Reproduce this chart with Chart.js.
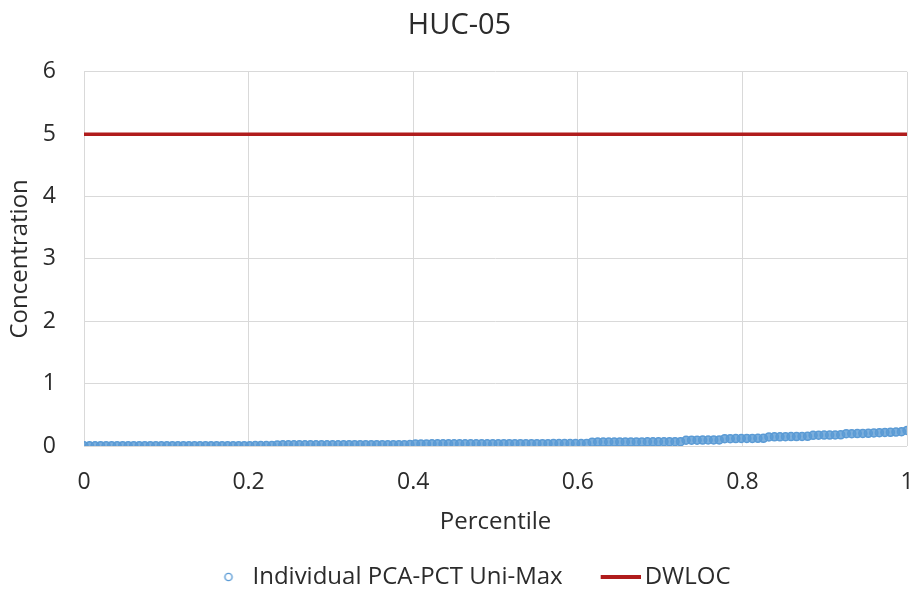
<!DOCTYPE html>
<html>
<head>
<meta charset="utf-8">
<script src="https://cdn.jsdelivr.net/npm/chart.js@4.4.0/dist/chart.umd.min.js"></script>
<style>
    html, body { margin: 0; padding: 0; background: #fff; }
    #wrap { width: 914px; height: 601px; }
</style>
</head>
<body>
<div id="wrap"><canvas id="hucChart"></canvas></div>
<script>
// sorted concentrations (ranked low to high)
const concentrations = [
    0.004, 0.004, 0.004, 0.005, 0.005, 0.005, 0.005, 0.005, 0.005, 0.005,
    0.005, 0.005, 0.005, 0.005, 0.005, 0.005, 0.005, 0.005, 0.005, 0.006,
    0.006, 0.006, 0.006, 0.006, 0.006, 0.006, 0.006, 0.006, 0.006, 0.006,
    0.006, 0.007, 0.007, 0.007, 0.007,
    0.018, 0.019, 0.019, 0.02, 0.02, 0.02, 0.02, 0.02, 0.02, 0.02,
    0.02, 0.02, 0.02, 0.021, 0.021, 0.021, 0.021, 0.021, 0.021, 0.022,
    0.022, 0.022, 0.022, 0.022, 0.023,
    0.033, 0.034, 0.034, 0.035, 0.035, 0.035, 0.035, 0.035, 0.035, 0.035,
    0.035, 0.036, 0.036, 0.036, 0.036, 0.036, 0.037, 0.037, 0.037, 0.037,
    0.037, 0.038, 0.038, 0.038, 0.038, 0.039, 0.039, 0.039, 0.04, 0.04,
    0.04, 0.041,
    0.062, 0.063, 0.063, 0.064, 0.064, 0.065, 0.065, 0.065, 0.066, 0.066,
    0.067, 0.067, 0.068, 0.068, 0.069, 0.07, 0.07,
    0.092, 0.093, 0.094, 0.095, 0.096, 0.097, 0.098,
    0.117, 0.118, 0.119, 0.12, 0.121, 0.122, 0.123, 0.124,
    0.146, 0.147, 0.148, 0.15, 0.151, 0.152, 0.153, 0.155,
    0.172, 0.173, 0.175, 0.176, 0.177, 0.179,
    0.197, 0.198, 0.2, 0.201, 0.203,
    0.21, 0.213, 0.217, 0.22, 0.223, 0.23, 0.25
];
const dwlocLevel = 5;
const xTicks = [0, 0.2, 0.4, 0.6, 0.8, 1];
const yTicks = [0, 1, 2, 3, 4, 5, 6];

// percentile = rank / (n - 1)
const pcaPoints = concentrations.map((c, i) => ({ x: i / (concentrations.length - 1), y: c }));
const dwlocPoints = [{ x: xTicks[0], y: dwlocLevel }, { x: xTicks[xTicks.length - 1], y: dwlocLevel }];

const fontFamily = '"Open Sans", "Noto Sans", sans-serif';
const textColor = '#2b2b2b';
const blue = '#5b9bd5';
const red = '#b01c1c';

// legend symbols: small hollow circle, short thick line
function legendCircle() {
    const c = document.createElement('canvas');
    c.width = 52; c.height = 12;
    const g = c.getContext('2d');
    g.strokeStyle = blue;
    g.lineWidth = 1.4;
    g.beginPath();
    g.arc(40, 6, 3.6, 0, Math.PI * 2);
    g.stroke();
    return c;
}
function legendLine() {
    const c = document.createElement('canvas');
    c.width = 68; c.height = 12;
    const g = c.getContext('2d');
    g.fillStyle = red;
    g.fillRect(28, 4, 40, 4);
    return c;
}
const legendIcons = [legendCircle(), legendLine()];

new Chart(document.getElementById('hucChart').getContext('2d'), {
    type: 'scatter',
    data: {
        datasets: [{
            label: 'Individual PCA-PCT Uni-Max',
            data: pcaPoints,
            pointStyle: 'circle',
            pointRadius: 4,
            pointBorderWidth: 1.5,
            borderColor: blue,
            backgroundColor: 'rgba(91,155,213,0.8)',
            pointBackgroundColor: 'rgba(91,155,213,0.8)',
            showLine: false
        }, {
            label: 'DWLOC',
            data: dwlocPoints,
            type: 'line',
            borderColor: red,
            backgroundColor: red,
            borderWidth: 3.5,
            pointRadius: 0
        }]
    },
    options: {
        responsive: true,
        maintainAspectRatio: false,
        animation: false,
        layout: { padding: { left: 5, right: 0, top: 4, bottom: 2 } },
        scales: {
            x: {
                type: 'linear',
                min: 0,
                max: 1,
                afterBuildTicks: axis => { axis.ticks = xTicks.map(v => ({ value: v })); },
                afterFit: axis => { axis.height = 101; axis.paddingRight = 7; },
                grid: { color: '#d9d9d9', drawTicks: false },
                border: { display: false },
                ticks: { color: textColor, padding: 23, callback: v => String(v), font: { family: fontFamily, size: 23 } },
                title: { display: true, text: 'Percentile', color: textColor, padding: { top: 0, bottom: 10 }, font: { family: fontFamily, size: 24 } }
            },
            y: {
                min: 0,
                max: 6,
                afterBuildTicks: axis => { axis.ticks = yTicks.map(v => ({ value: v })); },
                afterFit: axis => { axis.width = 79; },
                grid: { color: '#d9d9d9', drawTicks: false },
                border: { display: false },
                ticks: { color: textColor, padding: 28, font: { family: fontFamily, size: 23 } },
                title: { display: true, text: 'Concentration', color: textColor, padding: { top: 1, bottom: 0 }, font: { family: fontFamily, size: 24 } }
            }
        },
        plugins: {
            title: {
                display: true,
                text: 'HUC-05',
                color: textColor,
                padding: { top: 4, bottom: 29 },
                font: { family: fontFamily, size: 29, weight: 'normal' }
            },
            legend: {
                position: 'bottom',
                labels: {
                    usePointStyle: true,
                    pointStyleWidth: 52,
                    boxHeight: 12,
                    color: textColor,
                    padding: 18,
                    font: { family: fontFamily, size: 24 },
                    generateLabels: chart => chart.data.datasets.map((ds, i) => ({
                        text: ds.label,
                        datasetIndex: i,
                        pointStyle: legendIcons[i],
                        fontColor: textColor,
                        lineWidth: 0,
                        hidden: false
                    }))
                }
            },
            tooltip: { enabled: false }
        }
    }
});
</script>
</body>
</html>
